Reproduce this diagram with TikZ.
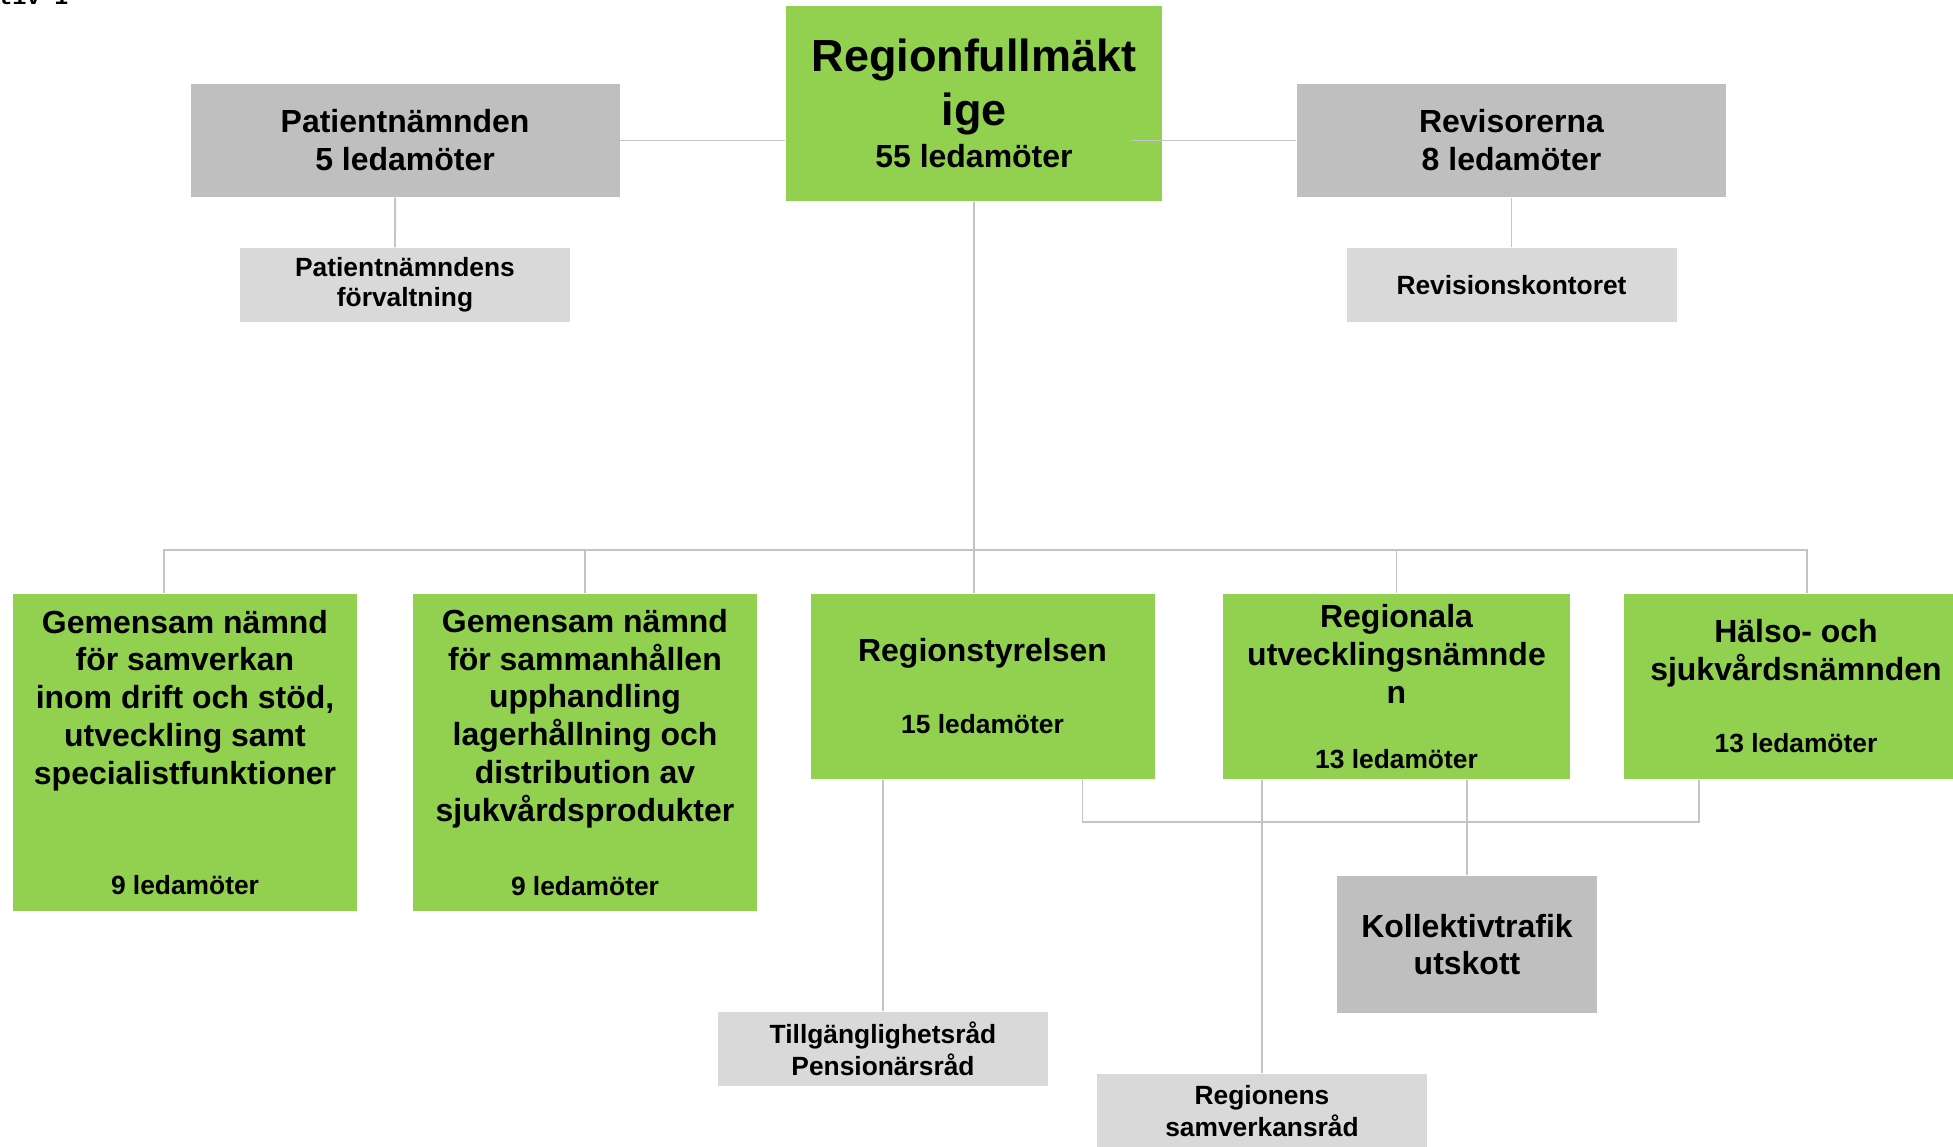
\documentclass[tikz,border=0pt]{standalone}
\usepackage{fontspec}
\setmainfont{Liberation Sans}
\newfontfamily\monofont{Liberation Mono}
\definecolor{boardgreen}{HTML}{92D050}
\definecolor{boardgray}{HTML}{BFBFBF}
\definecolor{officegray}{HTML}{D9D9D9}
\definecolor{linkgray}{HTML}{C4C4C4}

\begin{document}
\begin{tikzpicture}[x=1cm,y=1cm]
  \tikzstyle{board}=[fill=boardgreen, inner sep=0pt, align=center, minimum width=3.44cm,
    font=\bfseries\fontsize{9.1}{10.8}\selectfont]
  \tikzstyle{panel}=[fill=boardgray, inner sep=0pt, align=center,
    font=\bfseries\fontsize{9.1}{10.8}\selectfont]
  \tikzstyle{office}=[fill=officegray, inner sep=0pt, align=center, minimum width=3.3cm, minimum height=0.74cm,
    font=\bfseries\fontsize{7.5}{9.1}\selectfont]
  \tikzstyle{link}=[draw=linkgray, line width=0.55pt]

  \useasboundingbox (0,0) rectangle (19.53,-11.47);

  % cut off page heading
  \node[anchor=base west, inner sep=0pt, font=\monofont\bfseries\fontsize{6.6}{8}\selectfont] (heading) at (-0.02,-0.045) {tiv 1};

  % top level
  \node[board, minimum width=3.76cm, minimum height=1.95cm, font=\bfseries\fontsize{12.8}{15.4}\selectfont] (rf) at (9.74,-1.035)
    {Regionfullmäkt\\ ige\\[-3.4pt] {\fontsize{9.1}{15.4}\selectfont 55 ledamöter}};
  \node[panel, minimum width=4.29cm, minimum height=1.13cm] (pn) at (4.051,-1.405) {Patientnämnden\\ 5 ledamöter};
  \node[panel, minimum width=4.29cm, minimum height=1.13cm] (rev) at (15.115,-1.405) {Revisorerna\\ 8 ledamöter};
  \node[office, font=\bfseries\fontsize{7.5}{8.5}\selectfont] (pnf) at (4.05,-2.85) {Patientnämndens\\ förvaltning};
  \node[office] (rk) at (15.115,-2.85) {Revisionskontoret};

  % boards
  \node[board, minimum height=3.17cm] (g1) at (1.85,-7.525)
    {Gemensam nämnd\\ för samverkan\\ inom drift och stöd,\\ utveckling samt\\ specialistfunktioner\\[20.5pt]
     {\fontsize{7.5}{10.8}\selectfont 9 ledamöter}};
  \node[board, minimum height=3.17cm] (g2) at (5.85,-7.525)
    {Gemensam nämnd\\ för sammanhållen\\ upphandling\\ lagerhållning och\\ distribution av\\ sjukvårdsprodukter\\[10.25pt]
     {\fontsize{7.5}{10.8}\selectfont 9 ledamöter}};
  \node[board, minimum height=1.85cm] (rs) at (9.825,-6.865)
    {Regionstyrelsen\\[9.7pt] {\fontsize{7.5}{10.8}\selectfont 15 ledamöter}};
  \node[board, minimum height=1.85cm, minimum width=3.47cm] (ru) at (13.965,-6.865)
    {Regionala\\ utvecklingsnämnde\\ n\\[7.7pt] {\fontsize{7.5}{10.8}\selectfont 13 ledamöter}};
  \node[board, minimum height=1.85cm] (hs) at (17.96,-6.865)
    {Hälso- och\\ sjukvårdsnämnden\\[9.7pt] {\fontsize{7.5}{10.8}\selectfont 13 ledamöter}};

  % under the boards
  \node[panel, minimum width=2.6cm, minimum height=1.37cm, font=\bfseries\fontsize{9.1}{10.5}\selectfont] (ks) at (14.67,-9.445)
    {Kollektivtrafik\\ utskott};
  \node[office] (ts) at (8.83,-10.49) {Tillgänglighetsråd\\ Pensionärsråd};
  \node[office] (sv) at (12.62,-11.11) {Regionens\\ samverkansråd};

  \coordinate (bus) at (0,-5.5);

  \draw[link] (pn.east) -- (pn.east -| rf.west);
  \draw[link] ([xshift=-0.32cm]rev.west -| rf.east) -- (rev.west);
  \draw[link] ([xshift=-0.1cm]pn.south) -- ([xshift=-0.1cm]pnf.north);
  \draw[link] (rev.south) -- (rk.north);

  \draw[link] (rf.south) -- (rf.south |- rs.north);
  \draw[link] ([xshift=-0.21cm]g1.north) |- ([xshift=0.11cm]hs.north |- bus) -- ([xshift=0.11cm]hs.north);
  \draw[link] (g2.north) -- (g2.north |- bus);
  \draw[link] (ru.north) -- (ru.north |- bus);

  \draw[link] ([xshift=1cm]rs.south) -- ++(0,-0.42) -| ([xshift=-0.97cm]hs.south);
  \draw[link] (ts.north) -- (ts.north |- rs.south);
  \draw[link] (sv.north) -- (sv.north |- ru.south);
  \draw[link] (ks.north) -- (ks.north |- ru.south);
\end{tikzpicture}
\end{document}
